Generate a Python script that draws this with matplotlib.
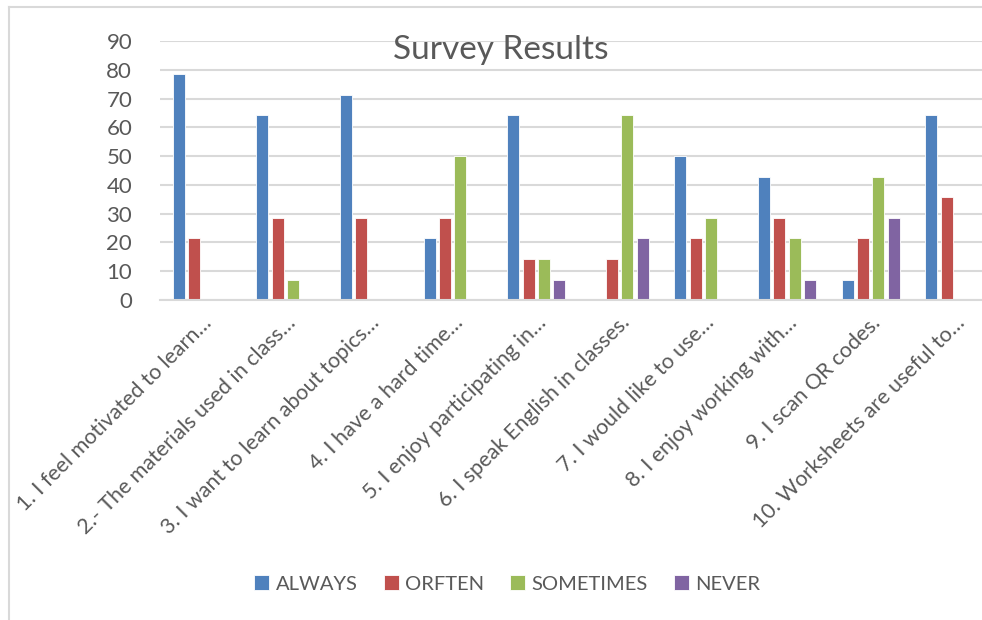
import numpy as np
import matplotlib
matplotlib.use('Agg')
import matplotlib.pyplot as plt
from matplotlib.lines import Line2D


# data: percentages (14 respondents)
questions = ['1. I feel motivated to learn…',
             '2.- The materials used in class…',
             '3. I want to learn about topics…',
             '4. I have a hard time…',
             '5. I enjoy participating in…',
             '6. I speak English in classes.',
             '7. I would like to use…',
             '8. I enjoy working with…',
             '9. I scan QR codes.',
             '10. Worksheets are useful to…']

always    = [78.6, 64.3, 71.4, 21.4, 64.3, 0.0, 50.0, 42.9, 7.1, 64.3]
orften    = [21.4, 28.6, 28.6, 28.6, 14.3, 14.3, 21.4, 28.6, 21.4, 35.7]
sometimes = [0.0, 7.1, 0.0, 50.0, 14.3, 64.3, 28.6, 21.4, 42.9, 0.0]
never     = [0.0, 0.0, 0.0, 0.0, 7.1, 21.4, 0.0, 7.1, 28.6, 0.0]

series = [('ALWAYS', always, '#4F81BD'),
          ('ORFTEN', orften, '#C0504D'),
          ('SOMETIMES', sometimes, '#9BBB59'),
          ('NEVER', never, '#8064A2')]

txt = '#595959'
grid = '#D9D9D9'
plt.rcParams['font.family'] = ['Lato', 'DejaVu Sans']


#Set up the figure and the plot area

fig = plt.figure(figsize=(9.82, 6.2), dpi=100)
ax = fig.add_axes([160/982, 1 - 300/620, 836/982, 259/620])

x = np.arange(len(questions))
w = 0.144
step = 0.183

for i, (name, vals, col) in enumerate(series):
    ax.bar(x + (i - 1.5) * step, vals, width=w, color=col, label=name,
           edgecolor='white', linewidth=0.6, zorder=3)

ax.set_xlim(-0.5, len(questions) - 0.5)
ax.set_ylim(0, 90)
ax.set_yticks(range(0, 91, 10))
ax.yaxis.grid(True, color=grid, linewidth=1.5, zorder=0)
for s in ['top', 'right', 'left']:
    ax.spines[s].set_visible(False)
ax.spines['bottom'].set_color(grid)
ax.spines['bottom'].set_linewidth(1.5)
ax.spines['bottom'].set_zorder(4)

ax.set_xticks(x)
ax.set_xticklabels(questions, rotation=45, ha='right', va='top',
                   rotation_mode='anchor')
ax.tick_params(axis='x', length=0, pad=9, labelsize=15.5, labelcolor=txt)
ax.tick_params(axis='y', length=0, pad=20, labelsize=16, labelcolor=txt)


#Title, legend and the chart border

fig.text(501/982, 1 - 50/620, 'Survey Results', ha='center', va='center',
         fontsize=24, color=txt)

fig.legend(loc='center', bbox_to_anchor=(507/982, 1 - 584/620), ncol=4,
           frameon=False, fontsize=14.5, labelcolor=txt, handlelength=0.75,
           handleheight=0.75, handletextpad=0.3, columnspacing=1.3)

bx = 8.5/982
by = 1 - 6.5/620
fig.add_artist(Line2D([bx, 1.0], [by, by], transform=fig.transFigure,
                      color=grid, linewidth=1.5))
fig.add_artist(Line2D([bx, bx], [0.0, by], transform=fig.transFigure,
                      color=grid, linewidth=1.5))

plt.savefig('out.png', dpi=100)
